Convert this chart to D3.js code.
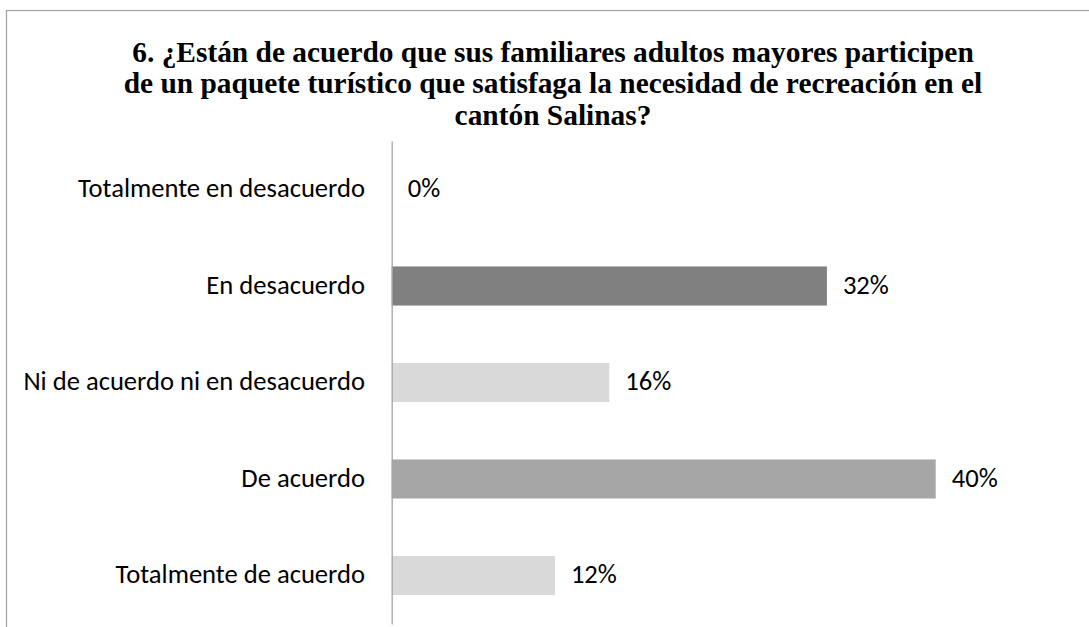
<!DOCTYPE html>
<html>
<head>
<meta charset="utf-8">
<script src="https://cdn.jsdelivr.net/npm/d3@7"></script>
<style>
  html, body { margin: 0; padding: 0; background: #fff; }
  svg { display: block; }
</style>
</head>
<body>
<svg id="chart" width="1089" height="627"></svg>
<script>
// Survey responses, question 6
const categories = [
  "Totalmente en desacuerdo",
  "En desacuerdo",
  "Ni de acuerdo ni en desacuerdo",
  "De acuerdo",
  "Totalmente de acuerdo"
];
const percentages = [0, 32, 16, 40, 12];
const barColors = ["#d9d9d9", "#808080", "#d9d9d9", "#a6a6a6", "#d9d9d9"];
const titleLines = [
  "6. ¿Están de acuerdo que sus familiares adultos mayores participen",
  "de un paquete turístico que satisfaga la necesidad de recreación en el",
  "cantón Salinas?"
];

const data = categories.map((c, i) => ({ category: c, value: percentages[i], color: barColors[i] }));

const svg = d3.select("#chart");
const labelFont = "Carlito, Calibri, Lato, sans-serif";
const labelSize = 26.6;
const titleX = 553;

// chart frame
svg.append("rect")
  .attr("x", 6.5).attr("y", 10.5)
  .attr("width", 1200).attr("height", 800)
  .attr("fill", "none")
  .attr("stroke", "#a6a6a6")
  .attr("stroke-width", 1.3);

// title
svg.append("text")
  .attr("x", titleX)
  .attr("y", 61.5)
  .attr("text-anchor", "middle")
  .style("font-family", "'Liberation Serif', 'Times New Roman', Times, serif")
  .style("font-weight", "bold")
  .style("font-size", "29.4px")
  .attr("fill", "#000")
  .selectAll("tspan")
  .data(titleLines)
  .join("tspan")
  .attr("x", titleX)
  .attr("dy", (d, i) => i === 0 ? 0 : 31.7)
  .text(d => d);

const x0 = 391.7;
const x = d3.scaleLinear().domain([0, 40]).range([x0, 935.7]);
const y = d3.scaleBand()
  .domain(categories)
  .range([141, 624])
  .paddingInner(0.595)
  .paddingOuter(0.3);

// bars
svg.append("g")
  .selectAll("rect")
  .data(data)
  .join("rect")
  .attr("x", x(0))
  .attr("y", d => y(d.category))
  .attr("width", d => x(d.value) - x(0))
  .attr("height", y.bandwidth())
  .attr("fill", d => d.color);

// value labels
svg.append("g")
  .selectAll("text")
  .data(data)
  .join("text")
  .attr("x", d => x(d.value) + 16)
  .attr("y", d => y(d.category) + y.bandwidth() / 2)
  .attr("dy", "0.3em")
  .style("font-family", labelFont)
  .style("font-size", labelSize + "px")
  .attr("fill", "#000")
  .text(d => d.value + "%");

// category axis
const axis = svg.append("g")
  .attr("transform", `translate(${x0},0)`)
  .call(d3.axisLeft(y).tickSize(0).tickSizeOuter(0).tickPadding(26.7));
axis.select(".domain").attr("stroke", "#a6a6a6").attr("stroke-width", 1.3);
axis.selectAll(".tick text")
  .attr("dy", "0.3em")
  .style("font-family", labelFont)
  .style("font-size", labelSize + "px")
  .attr("fill", "#000");
</script>
</body>
</html>
